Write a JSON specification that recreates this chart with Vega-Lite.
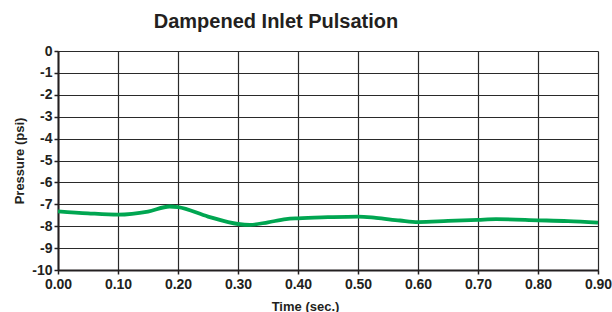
{
  "$schema": "https://vega.github.io/schema/vega-lite/v6.json",
  "width": 540,
  "height": 219,
  "autosize": "none",
  "padding": {"left": 58, "top": 51, "right": 14, "bottom": 42},
  "background": "white",
  "title": {
    "text": "Dampened Inlet Pulsation",
    "font": "Liberation Sans",
    "fontSize": 20,
    "fontWeight": "bold",
    "color": "#231f20",
    "anchor": "middle",
    "dx": -52,
    "offset": 12
  },
  "config": {
    "view": {"stroke": null},
    "axis": {
      "labelFont": "Liberation Sans",
      "titleFont": "Liberation Sans",
      "labelFontWeight": "bold",
      "titleFontWeight": "bold",
      "labelFontSize": 14,
      "titleFontSize": 13,
      "labelColor": "#231f20",
      "titleColor": "#231f20",
      "gridColor": "#2a2a2a",
      "gridWidth": 1.2,
      "gridOpacity": 1,
      "domainColor": "#231f20",
      "domainWidth": 2,
      "tickColor": "#231f20",
      "tickWidth": 1.5,
      "tickSize": 4
    }
  },
  "data": {
    "values": [
      {"t": 0.00, "p": -7.32},
      {"t": 0.05, "p": -7.41},
      {"t": 0.10, "p": -7.47},
      {"t": 0.15, "p": -7.33},
      {"t": 0.186, "p": -7.10},
      {"t": 0.20, "p": -7.13},
      {"t": 0.25, "p": -7.56},
      {"t": 0.30, "p": -7.90},
      {"t": 0.32, "p": -7.94},
      {"t": 0.35, "p": -7.82},
      {"t": 0.38, "p": -7.68},
      {"t": 0.40, "p": -7.64},
      {"t": 0.45, "p": -7.59},
      {"t": 0.50, "p": -7.56},
      {"t": 0.53, "p": -7.62},
      {"t": 0.57, "p": -7.74},
      {"t": 0.60, "p": -7.81},
      {"t": 0.65, "p": -7.76},
      {"t": 0.70, "p": -7.71},
      {"t": 0.73, "p": -7.68},
      {"t": 0.80, "p": -7.73},
      {"t": 0.85, "p": -7.77},
      {"t": 0.90, "p": -7.84}
    ]
  },
  "mark": {"type": "line", "color": "#00a651", "strokeWidth": 3.8, "interpolate": "monotone"},
  "encoding": {
    "x": {
      "field": "t",
      "type": "quantitative",
      "scale": {"domain": [0, 0.9], "nice": false, "zero": false},
      "axis": {
        "values": [0, 0.1, 0.2, 0.3, 0.4, 0.5, 0.6, 0.7, 0.8, 0.9],
        "format": ".2f",
        "title": "Time (sec.)",
        "titleX": 247,
        "titlePadding": 9,
        "labelPadding": 3,
        "labelFlush": false
      }
    },
    "y": {
      "field": "p",
      "type": "quantitative",
      "scale": {"domain": [-10, 0], "nice": false},
      "axis": {
        "values": [0, -1, -2, -3, -4, -5, -6, -7, -8, -9, -10],
        "labelExpr": "replace(datum.label, '\u2212', '-')",
        "title": "Pressure (psi)",
        "titlePadding": 5,
        "labelPadding": 2
      }
    }
  }
}
